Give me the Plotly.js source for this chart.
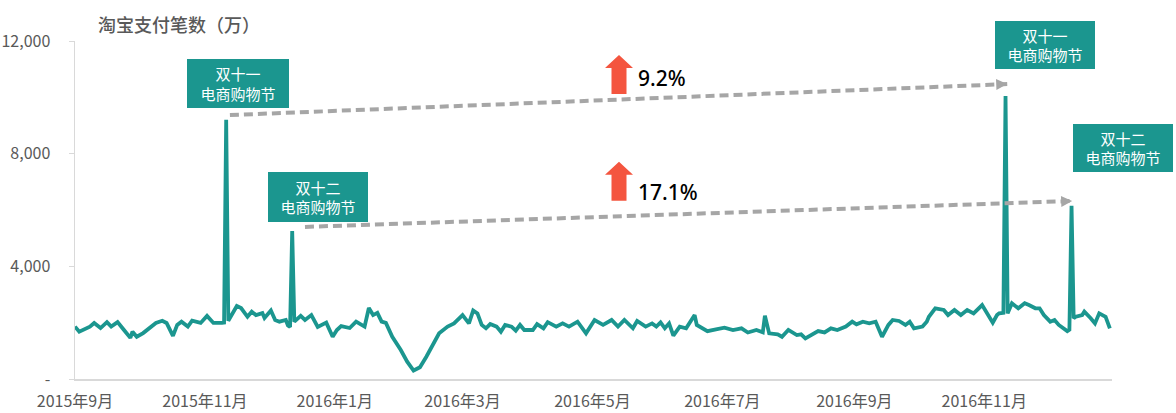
<!DOCTYPE html>
<html>
<head>
<meta charset="utf-8">
<script src="https://cdn.plot.ly/plotly-3.0.1.min.js"></script>
<style>html,body{margin:0;padding:0;background:#fff;}#chart{width:1176px;height:413px;}</style>
</head>
<body>
<div id="chart"></div>
<script>
// ---- data (淘宝支付笔数, 万) ----
const dates2015 = [
'2015-09-01','2015-09-03','2015-09-08','2015-09-10','2015-09-13','2015-09-16','2015-09-18','2015-09-21','2015-09-24','2015-09-27','2015-09-28','2015-09-30',
'2015-10-03','2015-10-06','2015-10-09','2015-10-12','2015-10-14','2015-10-17','2015-10-19','2015-10-21','2015-10-24','2015-10-26','2015-10-30',
'2015-11-02','2015-11-05','2015-11-09','2015-11-10','2015-11-11','2015-11-12','2015-11-16','2015-11-18','2015-11-21','2015-11-23','2015-11-25','2015-11-28','2015-11-29',
'2015-12-02','2015-12-04','2015-12-06','2015-12-09','2015-12-10','2015-12-11','2015-12-12','2015-12-13','2015-12-16','2015-12-18','2015-12-21','2015-12-24','2015-12-28','2015-12-31'
];
const values2015 = [
1860,1680,1860,1990,1810,2020,1860,2020,1740,1460,1680,1500,
1630,1810,1990,2070,1990,1530,1920,2035,1860,2070,1990,
2240,1990,1990,2000,9200,2070,2590,2520,2210,2390,2270,2340,2165,
2430,2095,2035,2095,1900,1850,5250,2035,2240,2095,2270,1850,2000,1500
];
const dates2016 = [
'2016-01-02','2016-01-04','2016-01-08','2016-01-11','2016-01-15','2016-01-17','2016-01-19','2016-01-21','2016-01-23','2016-01-25','2016-01-28',
'2016-02-01','2016-02-04','2016-02-07','2016-02-10','2016-02-13','2016-02-16','2016-02-19','2016-02-23','2016-02-26',
'2016-03-01','2016-03-04','2016-03-06','2016-03-08','2016-03-10','2016-03-12','2016-03-14','2016-03-17','2016-03-19','2016-03-21','2016-03-24','2016-03-26','2016-03-28','2016-03-30',
'2016-04-03','2016-04-05','2016-04-08','2016-04-10','2016-04-14','2016-04-17','2016-04-20','2016-04-24','2016-04-28',
'2016-05-02','2016-05-06','2016-05-10','2016-05-13','2016-05-16','2016-05-20','2016-05-22','2016-05-26','2016-05-29','2016-05-31',
'2016-06-02','2016-06-04','2016-06-06','2016-06-08','2016-06-11','2016-06-14','2016-06-18','2016-06-19','2016-06-24','2016-06-28',
'2016-07-02','2016-07-06','2016-07-10','2016-07-13','2016-07-17','2016-07-20','2016-07-21','2016-07-23','2016-07-27','2016-07-29',
'2016-08-01','2016-08-05','2016-08-07','2016-08-09','2016-08-12','2016-08-15','2016-08-18','2016-08-21','2016-08-24','2016-08-28','2016-08-31',
'2016-09-02','2016-09-05','2016-09-08','2016-09-11','2016-09-12','2016-09-14','2016-09-17','2016-09-19','2016-09-22','2016-09-25','2016-09-27','2016-09-29',
'2016-10-03','2016-10-05','2016-10-06','2016-10-09','2016-10-13','2016-10-15','2016-10-18','2016-10-21','2016-10-24','2016-10-27','2016-10-31',
'2016-11-02','2016-11-05','2016-11-07','2016-11-08','2016-11-10','2016-11-11','2016-11-12','2016-11-14','2016-11-17','2016-11-20','2016-11-22','2016-11-25','2016-11-27','2016-11-29',
'2016-12-02','2016-12-04','2016-12-06','2016-12-09','2016-12-10','2016-12-11','2016-12-12','2016-12-13','2016-12-14','2016-12-17','2016-12-18','2016-12-21','2016-12-23','2016-12-25','2016-12-28','2016-12-30'
];
const values2016 = [
1740,1880,1810,2035,1860,2520,2270,2350,2035,1990,1500,
1030,615,300,415,790,1210,1620,1860,1975,
2270,1975,2430,2330,1920,1800,1950,1860,1680,1920,1860,1715,1920,1740,
1740,1950,1800,2020,1860,1975,1860,2035,1620,
2095,1920,2095,1860,2095,1800,2060,1860,1975,1860,
2010,1800,1975,1540,1860,1800,2270,1920,1700,1765,
1820,1740,1800,1650,1740,1655,2250,1620,1585,1500,
1740,1560,1585,1445,1560,1700,1655,1800,1740,1860,2035,
1940,2035,1975,2035,1860,1500,1920,2095,2060,1920,2035,1800,
1860,2035,2210,2510,2450,2270,2450,2270,2450,2330,2625,
2390,2000,2270,2330,2350,10050,2330,2690,2510,2690,2625,2510,2510,2270,
2035,2095,1920,1740,1700,1750,6150,2155,2210,2270,2390,2155,1975,2330,2210,1800
];

const tickDates = ['2015-09-01','2015-11-01','2016-01-01','2016-03-01','2016-05-01','2016-07-01','2016-09-01','2016-11-01'];
const tickLabels = ['2015年9月','2015年11月','2016年1月','2016年3月','2016年5月','2016年7月','2016年9月','2016年11月'];
const yTickVals = [0,4000,8000,12000];
const yTickLabels = ['-','4,000','8,000','12,000'];

const festivalLabels = ['双十一<br>电商购物节','双十二<br>电商购物节','双十一<br>电商购物节','双十二<br>电商购物节'];
const growthLabels = ['9.2%','17.1%'];
// comparison arrows: [startDate, startValue, endDate, endValue]
const arrow11 = ['2015-11-12 18:00', 9370, '2016-11-11 19:00', 10470];
const arrow12 = ['2015-12-18 00:00', 5400, '2016-12-12 07:00', 6320];

// ---- styles ----
const TEAL = '#1B968F';
const GRAY = '#A6A6A6';
const RED = '#F4553F';
const CJK = '"Noto Sans CJK SC", "Noto Sans", sans-serif';

const trace = {
  x: dates2015.concat(dates2016),
  y: values2015.concat(values2016),
  type: 'scatter', mode: 'lines',
  line: {color: TEAL, width: 3.8, shape: 'linear'},
  hoverinfo: 'x+y'
};

function pctX(px){ return (px - 75) / 1037; }
function pctY(py){ return (379 - py) / 338; }

const shapes = [];
const annotations = [];

[arrow11, arrow12].forEach(a => {
  shapes.push({type:'line', xref:'x', yref:'y', x0:a[0], y0:a[1], x1:a[2], y1:a[3],
    line:{color:GRAY, width:4, dash:'9px,5px'}, layer:'above'});
  annotations.push({xref:'x', yref:'y', x:a[2], y:a[3], text:'', showarrow:true,
    arrowhead:2, arrowsize:1, arrowwidth:2.2, arrowcolor:GRAY, ax:-10, ay:0.4, standoff:0});
});

// festival boxes
const boxes = [
  {cx:238, cy:83.5, w:102, h:49},
  {cx:318, cy:197, w:100, h:50},
  {cx:1045, cy:44.5, w:100, h:48},
  {cx:1123, cy:148, w:100, h:48}
];
boxes.forEach((b, i) => {
  annotations.push({xref:'paper', yref:'paper', x:pctX(b.cx), y:pctY(b.cy), xanchor:'center', yanchor:'middle',
    text:festivalLabels[i], showarrow:false, bgcolor:TEAL, width:b.w, height:b.h, borderpad:0, borderwidth:0,
    font:{family:CJK, size:15, color:'#ffffff'}, align:'center'});
});

// red up arrows + growth labels
const growthRows = [{bottom:94, label:78}, {bottom:200.7, label:191.5}];
growthRows.forEach((g, i) => {
  shapes.push({type:'path', xref:'paper', yref:'paper', xsizemode:'pixel', ysizemode:'pixel',
    xanchor:pctX(619), yanchor:pctY(g.bottom),
    path:'M-7.5,0 L7.5,0 L7.5,26 L14,26 L0,39 L-14,26 L-7.5,26 Z',
    fillcolor:RED, line:{width:0}, layer:'above'});
  annotations.push({xref:'paper', yref:'paper', x:pctX(636), y:pctY(g.label), xanchor:'left', yanchor:'middle',
    text:growthLabels[i], showarrow:false, font:{family:'"Noto Sans", sans-serif', size:21, color:'#000000', weight:500}});
});

// chart title
annotations.push({xref:'paper', yref:'paper', x:pctX(96), y:pctY(24), xanchor:'left', yanchor:'middle',
  text:'淘宝支付笔数（万）', showarrow:false, font:{family:CJK, size:18, color:'#595959', weight:500}});

const layout = {
  width:1176, height:413,
  margin:{l:75, r:64, t:41, b:34, pad:0},
  paper_bgcolor:'#ffffff', plot_bgcolor:'#ffffff',
  showlegend:false,
  xaxis:{type:'date', range:['2015-09-01','2016-12-31'], tickmode:'array', tickvals:tickDates, ticktext:tickLabels,
    showgrid:false, zeroline:false, showline:true, linecolor:'#D9D9D9', linewidth:1.5, ticks:'', ticklabelstandoff:7,
    tickfont:{family:CJK, size:16, color:'#595959'}, fixedrange:true},
  yaxis:{range:[0,12000], tickmode:'array', tickvals:yTickVals, ticktext:yTickLabels,
    showgrid:false, zeroline:false, showline:true, linecolor:'#D9D9D9', linewidth:1.5,
    ticks:'outside', ticklen:5, tickcolor:'#D9D9D9', ticklabelstandoff:15,
    tickfont:{family:CJK, size:16, color:'#595959'}, fixedrange:true},
  shapes:shapes,
  annotations:annotations
};

Plotly.newPlot('chart', [trace], layout, {displayModeBar:false, staticPlot:true});
</script>
</body>
</html>
